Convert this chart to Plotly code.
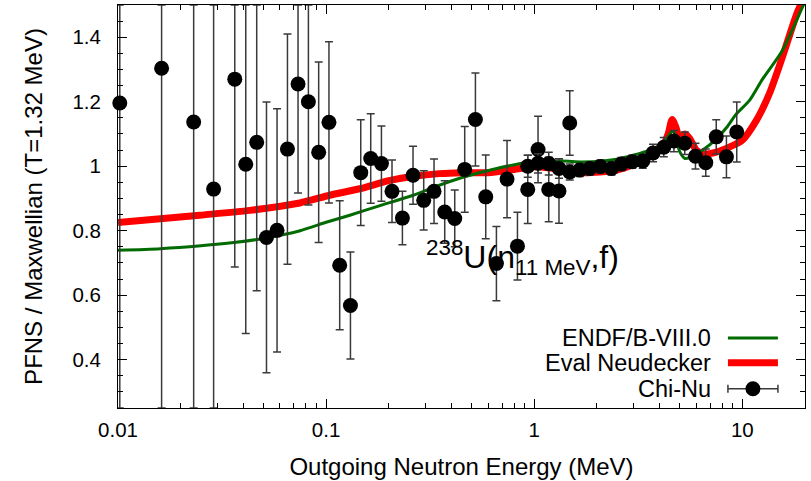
import numpy as np
import plotly.graph_objects as go

# ---------------- data ----------------
# Chi-Nu, low-energy (Li-glass) points: energy (MeV), PFNS/Maxwellian, 1-sigma
li_E = [0.0102, 0.0162, 0.0231, 0.0288, 0.0364, 0.0411, 0.0464, 0.0517, 0.0581, 0.0652,
        0.0733, 0.0822, 0.0921, 0.1032, 0.1162, 0.1309, 0.1467, 0.1638, 0.1844, 0.2073,
        0.2326, 0.2616, 0.2944, 0.330, 0.3715, 0.415, 0.4634, 0.5217, 0.5848, 0.6581,
        0.7402, 0.8305, 0.9307, 1.043, 1.174, 1.315, 1.481]
li_R = [1.196, 1.304, 1.137, 0.929, 1.270, 1.006, 1.074, 0.779, 0.801, 1.053,
        1.255, 1.200, 1.043, 1.136, 0.693, 0.568, 0.980, 1.024, 1.008, 0.922,
        0.839, 0.972, 0.894, 0.922, 0.858, 0.838, 0.990, 1.145, 0.905, 0.698,
        0.960, 0.752, 0.928, 1.052, 0.928, 0.923, 1.134]
li_dR = [2.0, 2.0, 2.0, 2.0, 0.583, 0.525, 0.460, 0.420, 0.377, 0.357,
         0.338, 0.320, 0.280, 0.250, 0.200, 0.166, 0.164, 0.139, 0.117, 0.097,
         0.083, 0.090, 0.092, 0.100, 0.097, 0.088, 0.133, 0.144, 0.130, 0.115,
         0.120, 0.105, 0.106, 0.103, 0.100, 0.100, 0.100]

# Chi-Nu, high-energy (liquid scintillator) points
ls_E = [0.9307, 1.043, 1.174, 1.315, 1.481, 1.654, 1.848, 2.080, 2.350, 2.624,
        2.958, 3.322, 3.723, 4.192, 4.692, 5.288, 5.953, 6.671, 7.491, 8.386, 9.399]
ls_R = [1.000, 1.009, 1.008, 0.993, 0.982, 0.988, 0.993, 0.999, 0.993, 1.007,
        1.014, 1.016, 1.041, 1.059, 1.078, 1.071, 1.031, 1.011, 1.091, 1.029, 1.106]
ls_dR = [0.034, 0.030, 0.035, 0.030, 0.025, 0.020, 0.020, 0.020, 0.020, 0.020,
         0.020, 0.022, 0.027, 0.030, 0.033, 0.035, 0.040, 0.042, 0.053, 0.065, 0.093]

# ENDF/B-VIII.0 ratio
endf_E = [0.01, 0.016, 0.025, 0.036, 0.05, 0.075, 0.1, 0.13, 0.18, 0.26, 0.33, 0.45,
          0.66, 0.95, 1.37, 1.71, 2.49, 3.59, 4.2, 4.6, 4.75, 5.0,
          5.3, 5.7, 6.45, 7.5, 8.4, 9.3, 10.85, 12.5, 15.6, 19.5, 20.0]
endf_R = [0.739, 0.744, 0.753, 0.763, 0.776, 0.800, 0.826, 0.848, 0.877, 0.909, 0.935, 0.965,
          0.993, 1.012, 1.016, 1.013, 1.022, 1.050, 1.075, 1.108, 1.100, 1.045,
          1.024, 1.030, 1.050, 1.085, 1.120, 1.160, 1.205, 1.270, 1.360, 1.495, 1.51]

# Neudecker evaluation ratio
neud_E = [0.01, 0.0247, 0.043, 0.0747, 0.104, 0.145, 0.20, 0.26, 0.35, 0.45,
          0.6, 0.8, 1.0, 1.2, 1.7, 2.5, 3.0, 3.6, 4.1, 4.4,
          4.6, 4.8, 5.0, 5.3, 5.6, 6.0, 6.5, 7.5, 8.7, 10.0,
          11.7, 13.5, 15.6, 18.3, 20.0]
neud_R = [0.825, 0.848, 0.863, 0.886, 0.910, 0.930, 0.955, 0.968, 0.977, 0.980,
          0.980, 0.990, 0.998, 0.994, 0.980, 0.988, 1.005, 1.029, 1.055, 1.100,
          1.145, 1.120, 1.085, 1.100, 1.085, 1.050, 1.038, 1.044, 1.060, 1.081,
          1.143, 1.226, 1.340, 1.474, 1.530]

x_tick_vals = [0.01, 0.1, 1, 10]
x_tick_text = ["0.01", "0.1", "1", "10"]
x_minor_vals = [m * 10.0 ** d for d in (-2, -1, 0, 1) for m in range(2, 10) if m * 10.0 ** d < 20]
X_MIN, X_MAX = 0.01, 20.0
Y_MIN, Y_MAX = 0.25, 1.5
y_tick_vals = [0.4, 0.6, 0.8, 1.0, 1.2, 1.4]
y_tick_text = ["0.4", "0.6", "0.8", "1", "1.2", "1.4"]
y_minor_vals = [round(0.25 + 0.05 * i, 2) for i in range(26)]

legend_labels = ["ENDF/B-VIII.0", "Eval Neudecker", "Chi-Nu"]
annotation_text = "<sup>238</sup>U(n<sub>11 MeV</sub>,f)"

# ---------------- styling ----------------
FONT = "Liberation Sans, Arial, Helvetica, sans-serif"
GREEN = "#006b00"
RED = "#ff0000"
PT = "#000000"
BAR = "#3a3a3a"


def clipped(r, dr):
    r = np.asarray(r, float)
    dr = np.asarray(dr, float)
    return np.minimum(dr, Y_MAX - r), np.minimum(dr, r - Y_MIN)


fig = go.Figure()

# invisible trace that creates the overlay axes used for minor ticks
fig.add_trace(go.Scatter(x=[X_MIN], y=[Y_MIN], xaxis="x2", yaxis="y2", mode="markers",
                         marker=dict(opacity=0), hoverinfo="skip", showlegend=False))

fig.add_trace(go.Scatter(x=neud_E, y=neud_R, mode="lines", name=legend_labels[1],
                         line=dict(color=RED, width=7, shape="spline", smoothing=0.7)))
fig.add_trace(go.Scatter(x=endf_E, y=endf_R, mode="lines", name=legend_labels[0],
                         line=dict(color=GREEN, width=3, shape="spline", smoothing=0.7)))

for E, R, dR in [(li_E, li_R, li_dR), (ls_E, ls_R, ls_dR)]:
    up, dn = clipped(R, dR)
    fig.add_trace(go.Scatter(
        x=E, y=R, mode="markers", name=legend_labels[2], cliponaxis=False,
        marker=dict(color=PT, size=15, line=dict(width=0)),
        error_y=dict(type="data", symmetric=False, array=up, arrayminus=dn,
                     color=BAR, thickness=1.5, width=4)))

# annotation inside plot
fig.add_annotation(x=np.log10(0.2944), y=0.717, xref="x", yref="y", text=annotation_text,
                   showarrow=False, xanchor="left", yanchor="middle",
                   font=dict(family=FONT, size=32, color="black"))

# custom legend (text right-aligned, samples on the right)
leg_text_x = 0.8656
leg_rows_y = [0.1734, 0.1123, 0.0477]
samp_x0, samp_x1, samp_xc = 0.8878, 0.9606, 0.9242
for lab, yy in zip(legend_labels, leg_rows_y):
    fig.add_annotation(x=leg_text_x, y=yy, xref="paper", yref="paper", text=lab,
                       showarrow=False, xanchor="right", yanchor="middle",
                       font=dict(family=FONT, size=23.5, color="black"))
fig.add_shape(type="line", xref="paper", yref="paper", x0=samp_x0, x1=samp_x1,
              y0=leg_rows_y[0], y1=leg_rows_y[0], line=dict(color=GREEN, width=3))
fig.add_shape(type="line", xref="paper", yref="paper", x0=samp_x0, x1=samp_x1,
              y0=leg_rows_y[1], y1=leg_rows_y[1], line=dict(color=RED, width=7))
fig.add_shape(type="line", xref="paper", yref="paper", x0=samp_x0, x1=samp_x1,
              y0=leg_rows_y[2], y1=leg_rows_y[2], line=dict(color=BAR, width=1.5))
for xc in (samp_x0, samp_x1):
    fig.add_shape(type="line", xref="paper", yref="paper", xsizemode="pixel",
                  ysizemode="pixel", xanchor=xc, yanchor=leg_rows_y[2],
                  x0=0, x1=0, y0=-4, y1=4, line=dict(color=BAR, width=1.5))
fig.add_shape(type="circle", xref="paper", yref="paper", xsizemode="pixel",
              ysizemode="pixel", xanchor=samp_xc, yanchor=leg_rows_y[2],
              x0=-7.5, x1=7.5, y0=-7.5, y1=7.5, fillcolor=PT, line=dict(width=0))

axis_common = dict(showline=True, linecolor="black", linewidth=1, mirror="ticks",
                   ticks="inside", ticklen=9, tickwidth=1, tickcolor="black",
                   showgrid=False, zeroline=False, automargin=False,
                   tickfont=dict(family=FONT, size=20.5, color="black"))
minor_common = dict(showline=False, mirror="ticks", ticks="inside", ticklen=5,
                    tickwidth=1, tickcolor="black", showgrid=False, zeroline=False,
                    showticklabels=False, automargin=False, tickmode="array")

fig.update_layout(
    xaxis=dict(type="log", range=[np.log10(X_MIN), np.log10(X_MAX)],
               tickmode="array", tickvals=x_tick_vals, ticktext=x_tick_text,
               ticklabelstandoff=3,
               title=dict(text="Outgoing Neutron Energy (MeV)", standoff=18,
                          font=dict(family=FONT, size=24, color="black")),
               **axis_common),
    yaxis=dict(range=[Y_MIN, Y_MAX], tickmode="array", tickvals=y_tick_vals,
               ticktext=y_tick_text, ticklabelstandoff=12,
               title=dict(text="PFNS / Maxwellian (T=1.32 MeV)", standoff=23,
                          font=dict(family=FONT, size=24, color="black")),
               **axis_common),
    xaxis2=dict(type="log", range=[np.log10(X_MIN), np.log10(X_MAX)], overlaying="x",
                anchor="y2", side="bottom", tickvals=x_minor_vals, **minor_common),
    yaxis2=dict(range=[Y_MIN, Y_MAX], overlaying="y", anchor="x2", side="left",
                tickvals=y_minor_vals, **minor_common),
)

fig.update_layout(width=811, height=481, autosize=False,
                  margin=dict(l=118, r=6, t=5, b=73, pad=0),
                  paper_bgcolor="white", plot_bgcolor="white", showlegend=False,
                  font=dict(family=FONT, color="black"))

fig.write_html("out.html", config={"displayModeBar": False},
               post_script="document.body.style.margin='0';document.body.style.padding='0';")
